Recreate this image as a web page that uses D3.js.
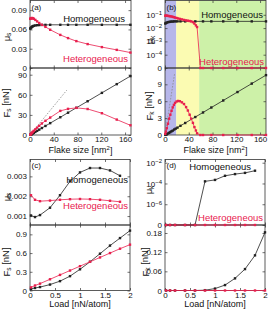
<!DOCTYPE html>
<html>
<head>
<meta charset="utf-8">
<script src="https://cdn.jsdelivr.net/npm/d3@7"></script>
<style>
  body { margin: 0; background: #fff; }
  svg { display: block; font-family: "Liberation Sans", Arial, sans-serif; }
  .tick text { font-family: "Liberation Sans", Arial, sans-serif; font-size: 8px; fill: #111; }
  .tick line { stroke: #333; stroke-width: 0.7; }
  .domain { display: none; }
</style>
</head>
<body>
<svg></svg>
<script>
// ---- data ----
let flakeTicks = [0, 40, 80, 120, 160];
let loadTicks = [0, 0.5, 1, 1.5, 2];

// (a) static friction vs flake size
let aSize = [0.5, 1, 2, 3, 4, 5, 6.5, 9, 12, 15.5, 20, 26, 34, 51, 64, 78, 97, 121, 146, 169];
let aMuHomo = [0.0612, 0.062, 0.063, 0.0638, 0.0645, 0.0651, 0.0657, 0.0662, 0.0666, 0.0668, 0.067, 0.0671, 0.0672, 0.0672, 0.0672, 0.0672, 0.0672, 0.0672, 0.0672, 0.0672];
let aMuHetero = [0.0765, 0.077, 0.0775, 0.0777, 0.0776, 0.0772, 0.0765, 0.0748, 0.0725, 0.07, 0.0672, 0.064, 0.0595, 0.0515, 0.0465, 0.0418, 0.0372, 0.0325, 0.0282, 0.024];
let aFHomo = [0.24, 0.48, 1.0, 1.5, 2.0, 2.5, 3.3, 4.6, 6.2, 8.0, 10.4, 13.5, 17.7, 26.5, 33.3, 40.6, 50.4, 62.9, 75.9, 87.9];
let aFHetero = [0.5, 1.0, 2.0, 3.0, 3.9, 4.9, 6.3, 8.5, 11.0, 13.8, 17.2, 21.2, 26.0, 36.0, 39.0, 40.5, 38.8, 32.5, 23.0, 14.5];
let aTangentSize = [0, 62];
let aTangentF = [0, 67];
let aMuTicks = [0, 0.03, 0.06, 0.09];
let aFTicks = [0, 30, 60, 90];

// (b) kinetic friction vs flake size
let bSizeHetero = [0.5, 1.5, 3, 5, 7, 9, 11, 13, 15, 17, 19.5, 22, 25, 28.5, 32, 35.5, 38.5, 41.5, 44, 47, 49.5, 52, 54, 59.5, 64, 78, 98, 122, 146, 170];
let bMuHetero = [0.085, 0.086, 0.085, 0.083, 0.08, 0.077, 0.074, 0.07, 0.066, 0.062, 0.057, 0.053, 0.049, 0.045, 0.041, 0.038, 0.036, 0.034, 0.032, 0.028, 0.022, 0.016, 0.012, 0, 0, 0, 0, 0, 0, 0];
let bFHetero = [0.2, 0.6, 1.2, 2.0, 2.9, 3.6, 4.3, 4.9, 5.35, 5.7, 5.95, 6.05, 6.0, 5.8, 5.5, 4.95, 4.35, 3.6, 2.9, 2.15, 1.4, 0.8, 0.3, 0, 0, 0, 0, 0, 0, 0];
let bSizeHomo = [0.5, 1.5, 3, 5, 7, 9, 11, 13, 15.5, 18, 21, 26, 34, 51, 64, 78, 98, 122, 146, 170];
let bMuHomo = [0.022, 0.024, 0.026, 0.028, 0.029, 0.03, 0.031, 0.031, 0.032, 0.032, 0.032, 0.032, 0.032, 0.032, 0.032, 0.032, 0.032, 0.032, 0.032, 0.032];
let bFHomo = [0.02, 0.07, 0.15, 0.27, 0.39, 0.52, 0.66, 0.78, 0.97, 1.13, 1.31, 1.63, 2.13, 3.19, 4.0, 4.88, 6.13, 7.63, 9.13, 10.63];
let bTangentSize = [0, 16];
let bTangentF = [0, 10.8];
let bZones = [0, 19, 57.5, 170];
let bMuTicks = [1e-5, 1e-4, 1e-3, 1e-2, 1e-1];
let bFTicks = [0, 3, 6, 9];

// (c), (d) friction vs load
let loadMu = [0.02, 0.1, 0.2, 0.4, 0.6, 0.8, 1.0, 1.2, 1.4, 1.6, 1.8];
let loadF = [0.02, 0.1, 0.2, 0.4, 0.6, 0.8, 1.0, 1.2, 1.4, 1.6, 1.8, 2.0];
let cMuHomo = [0.00103, 0.00095, 0.00105, 0.00142, 0.00205, 0.00275, 0.0032, 0.00342, 0.00342, 0.0033, 0.00303];
let cMuHetero = [0.00205, 0.00182, 0.00175, 0.00178, 0.00182, 0.00185, 0.00186, 0.00185, 0.00182, 0.00177, 0.00172];
let cFHomo = [0.025, 0.04, 0.055, 0.095, 0.15, 0.23, 0.34, 0.46, 0.59, 0.72, 0.84, 0.96];
let cFHetero = [0.05, 0.08, 0.11, 0.18, 0.25, 0.32, 0.39, 0.46, 0.53, 0.6, 0.67, 0.735];
let dMuHomo = [0, 0, 0, 0, 0, 1.6e-4, 2.2e-4, 5.5e-4, 8e-4, 1.05e-3, 1.7e-3];
let dMuHetero = [0, 0, 0, 0, 0, 0, 0, 0, 0, 0, 0];
let dFHomo = [0, 0, 0, 0, 0, 0.001, 0.006, 0.017, 0.038, 0.067, 0.11, 0.182];
let dFHetero = [0, 0, 0, 0, 0, 0, 0, 0, 0, 0, 0, 0];
let cMuTicks = [0.001, 0.002, 0.003];
let cFTicks = [0, 0.3, 0.6, 0.9];
let dMuTicks = [1e-8, 1e-6, 1e-4, 1e-2];
let dFTicks = [0, 0.06, 0.12, 0.18];

// ---- layout ----
let width = 271;
let height = 309;
let red = "#e8204e";
let zoneColors = ["#b6b6ea", "#fbfbb2", "#cdf1a8"];

let svg = d3.select("svg").attr("width", width).attr("height", height);

let pa = { x0: 30, x1: 131, top: 0.5, mid: 68, bottom: 135 };
let pb = { x0: 165, x1: 266, top: 0.5, mid: 68, bottom: 135 };
let pc = { x0: 30, x1: 130, top: 159.5, mid: 225, bottom: 290.5 };
let pd = { x0: 165, x1: 265, top: 159.5, mid: 225, bottom: 290.5 };

// scales
let xa = d3.scaleLinear().domain([0, 170]).range([pa.x0, pa.x1]);
let xb = d3.scaleLinear().domain([0, 170]).range([pb.x0, pb.x1]);
let xc = d3.scaleLinear().domain([0, 2]).range([pc.x0, pc.x1]);
let xd = d3.scaleLinear().domain([0, 2]).range([pd.x0, pd.x1]);

let yaMu = d3.scaleLinear().domain([0, 0.105]).range([pa.mid, pa.top]);
let yaF = d3.scaleLinear().domain([0, 100]).range([pa.bottom, pa.mid]);
let ybMu = d3.scaleLog().domain([1e-5, 1.186]).range([pb.mid, pb.top]);
let ybF = d3.scaleLinear().domain([0, 11.9]).range([pb.bottom, pb.mid]);
let ycMu = d3.scaleLinear().domain([0.00055, 0.00385]).range([pc.mid, pc.top]);
let ycF = d3.scaleLinear().domain([0, 1.05]).range([pc.bottom, pc.mid]);
let ydMu = d3.scaleLog().domain([1e-8, 0.0204]).range([pd.mid, pd.top]);
let ydF = d3.scaleLinear().domain([0, 0.205]).range([pd.bottom, pd.mid]);

function plain(d) {
  return String(d);
}

function drawFrame(x, y, xTicks, yTicks, yFormat, showX) {
  let [xl, xr] = x.range();
  let [yb, yt] = y.range();
  let g = svg.append("g");

  g.append("g")
    .attr("transform", `translate(0, ${yb})`)
    .call(d3.axisBottom(x).tickValues(xTicks).tickSize(-2.5).tickPadding(1.5)
      .tickFormat(showX ? plain : () => ""));
  g.append("g")
    .attr("transform", `translate(0, ${yt})`)
    .call(d3.axisTop(x).tickValues(xTicks).tickSize(-2.5).tickFormat(() => ""));
  let left = g.append("g")
    .attr("transform", `translate(${xl}, 0)`)
    .call(d3.axisLeft(y).tickValues(yTicks).tickSize(-2.5).tickPadding(3).tickFormat(plain));
  g.append("g")
    .attr("transform", `translate(${xr}, 0)`)
    .call(d3.axisRight(y).tickValues(yTicks).tickSize(-2.5).tickFormat(() => ""));

  g.append("rect")
    .attr("x", xl)
    .attr("y", yt)
    .attr("width", xr - xl)
    .attr("height", yb - yt)
    .attr("fill", "none")
    .attr("stroke", "#333")
    .attr("stroke-width", 0.8);

  if (yFormat === "log") {
    let zero = d3.min(yTicks);
    left.selectAll(".tick text").each(function (d) {
      let t = d3.select(this).text(null);
      if (d === zero) {
        t.text("0");
        return;
      }
      t.append("tspan").text("10");
      t.append("tspan")
        .attr("dy", "-0.45em")
        .attr("font-size", "6px")
        .text("\u2212" + Math.round(-Math.log10(d)));
    });
  }
}

function drawSeries(x, y, xs, ys, color, floor) {
  let pts = xs.map((v, i) => ({ x: v, y: floor ? Math.max(ys[i], floor) : ys[i] }));
  let line = d3.line().x((d) => x(d.x)).y((d) => y(d.y));

  svg.append("path")
    .datum(pts)
    .attr("d", line)
    .attr("fill", "none")
    .attr("stroke", color)
    .attr("stroke-width", 0.8);

  svg.append("g")
    .selectAll("rect")
    .data(pts)
    .enter()
    .append("rect")
    .attr("x", (d) => x(d.x) - 1.2)
    .attr("y", (d) => y(d.y) - 1.2)
    .attr("width", 2.4)
    .attr("height", 2.4)
    .attr("fill", color);
}

function drawDashed(x, y, xs, ys) {
  svg.append("path")
    .datum(xs.map((v, i) => [v, ys[i]]))
    .attr("d", d3.line().x((d) => x(d[0])).y((d) => y(d[1])))
    .attr("fill", "none")
    .attr("stroke", "#8a8a8a")
    .attr("stroke-width", 0.8)
    .attr("stroke-dasharray", "1.6,1.4");
}

function yTitle(bx, cy, main, sub, rest) {
  let t = svg.append("text")
    .attr("transform", `translate(${bx}, ${cy}) rotate(-90)`)
    .attr("text-anchor", "middle")
    .attr("font-size", "9.5px")
    .attr("fill", "#111");
  t.append("tspan").text(main);
  t.append("tspan").attr("dy", "0.3em").attr("font-size", "6.5px").text(sub);
  if (rest) t.append("tspan").attr("dy", "-0.3em").text(rest);
}

function xTitle(cx, by, main, sup, rest) {
  let t = svg.append("text")
    .attr("x", cx)
    .attr("y", by)
    .attr("text-anchor", "middle")
    .attr("font-size", "9px")
    .attr("fill", "#111");
  t.append("tspan").text(main);
  if (sup) {
    t.append("tspan").attr("dy", "-0.4em").attr("font-size", "6px").text(sup);
    t.append("tspan").attr("dy", "0.4em").text(rest);
  }
}

function note(x, y, text, color, size) {
  svg.append("text")
    .attr("x", x)
    .attr("y", y)
    .attr("text-anchor", size ? "start" : "end")
    .attr("font-size", size || "9.5px")
    .attr("fill", color)
    .text(text);
}

// ---- (b) coloured regimes behind everything ----
svg.append("g")
  .selectAll("rect")
  .data(zoneColors)
  .enter()
  .append("rect")
  .attr("x", (d, i) => xb(bZones[i]))
  .attr("y", pb.top)
  .attr("width", (d, i) => xb(bZones[i + 1]) - xb(bZones[i]))
  .attr("height", pb.bottom - pb.top)
  .attr("fill", (d) => d);

// ---- frames ----
drawFrame(xa, yaMu, flakeTicks, aMuTicks, null, false);
drawFrame(xa, yaF, flakeTicks, aFTicks, null, true);
drawFrame(xb, ybMu, flakeTicks, bMuTicks, "log", false);
drawFrame(xb, ybF, flakeTicks, bFTicks, null, true);
drawFrame(xc, ycMu, loadTicks, cMuTicks, null, false);
drawFrame(xc, ycF, loadTicks, cFTicks, null, true);
drawFrame(xd, ydMu, loadTicks, dMuTicks, "log", false);
drawFrame(xd, ydF, loadTicks, dFTicks, null, true);

// ---- series ----
drawDashed(xa, yaF, aTangentSize, aTangentF);
drawDashed(xb, ybF, bTangentSize, bTangentF);

drawSeries(xa, yaMu, aSize, aMuHomo, "#222");
drawSeries(xa, yaMu, aSize, aMuHetero, red);
drawSeries(xa, yaF, aSize, aFHomo, "#222");
drawSeries(xa, yaF, aSize, aFHetero, red);

drawSeries(xb, ybMu, bSizeHomo, bMuHomo, "#222", 1e-5);
drawSeries(xb, ybMu, bSizeHetero, bMuHetero, red, 1e-5);
drawSeries(xb, ybF, bSizeHomo, bFHomo, "#222");
drawSeries(xb, ybF, bSizeHetero, bFHetero, red);

drawSeries(xc, ycMu, loadMu, cMuHomo, "#222");
drawSeries(xc, ycMu, loadMu, cMuHetero, red);
drawSeries(xc, ycF, loadF, cFHomo, "#222");
drawSeries(xc, ycF, loadF, cFHetero, red);

drawSeries(xd, ydMu, loadMu, dMuHomo, "#222", 1e-8);
drawSeries(xd, ydMu, loadMu, dMuHetero, red, 1e-8);
drawSeries(xd, ydF, loadF, dFHomo, "#222");
drawSeries(xd, ydF, loadF, dFHetero, red);

// ---- text ----
note(31.5, 9.5, "(a)", "#111", "8px");
note(166.5, 9.5, "(b)", "#111", "8px");
note(31.5, 168, "(c)", "#111", "8px");
note(166.5, 168, "(d)", "#111", "8px");

note(125, 22, "Homogeneous", "#111");
note(128, 62, "Heterogeneous", red);
note(263, 18, "Homogeneous", "#111");
note(264, 65, "Heterogeneous", red);
note(128, 183, "Homogeneous", "#111");
note(128, 209, "Heterogeneous", red);
note(251, 170, "Homogeneous", "#111");
note(263, 221, "Heterogeneous", red);

yTitle(9.5, 37, "\u03bc", "s");
yTitle(9.5, 103, "F", "s", " [nN]");
yTitle(153, 40, "\u03bc", "k");
yTitle(152.5, 106, "F", "k", " [nN]");
yTitle(9.5, 197, "\u03bc", "s");
yTitle(9.5, 262, "F", "s", " [nN]");
yTitle(152, 190, "\u03bc", "k");
yTitle(148.5, 262, "F", "k", " [nN]");

xTitle(80.5, 152.5, "Flake size [nm", "2", "]");
xTitle(215.5, 152.5, "Flake size [nm", "2", "]");
xTitle(80, 306.5, "Load [nN/atom]");
xTitle(215, 306.5, "Load [nN/atom]");
</script>
</body>
</html>
